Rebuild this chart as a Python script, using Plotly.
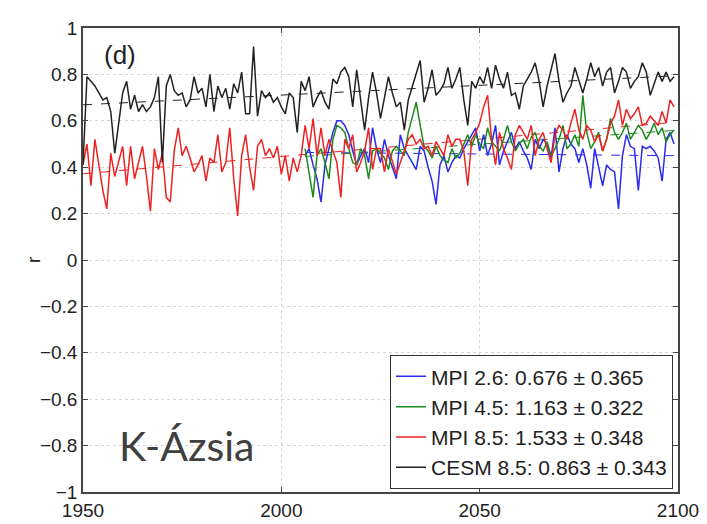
import numpy as np
import plotly.graph_objects as go

# Yearly correlation coefficient r, East Asia
years_hist = list(range(1950, 2100))
years_scen = list(range(2006, 2100))

cesm85 = [
    0.41, 0.79, 0.77, 0.75, 0.72, 0.69, 0.70, 0.64, 0.46, 0.58,
    0.72, 0.77, 0.65, 0.71, 0.64, 0.67, 0.64, 0.66, 0.70, 0.79,
    0.42, 0.75, 0.80, 0.73, 0.71, 0.72, 0.66, 0.69, 0.79, 0.72,
    0.74, 0.66, 0.80, 0.64, 0.75, 0.70, 0.74, 0.65, 0.76, 0.72,
    0.81, 0.63, 0.63, 0.92, 0.62, 0.73, 0.70, 0.72, 0.68, 0.70,
    0.66, 0.63, 0.72, 0.70, 0.55, 0.77, 0.73, 0.79, 0.66, 0.70,
    0.73, 0.68, 0.65, 0.78, 0.76, 0.81, 0.83, 0.79, 0.66, 0.82,
    0.68, 0.56, 0.70, 0.81, 0.72, 0.61, 0.70, 0.79, 0.72, 0.66,
    0.68, 0.56, 0.69, 0.75, 0.80, 0.86, 0.68, 0.74, 0.82, 0.71,
    0.73, 0.76, 0.83, 0.74, 0.78, 0.83, 0.69, 0.58, 0.77, 0.74,
    0.79, 0.76, 0.83, 0.74, 0.84, 0.78, 0.74, 0.81, 0.71, 0.72,
    0.65, 0.75, 0.78, 0.81, 0.85, 0.77, 0.66, 0.75, 0.82, 0.89,
    0.77, 0.68, 0.72, 0.75, 0.83, 0.78, 0.72, 0.78, 0.85, 0.79,
    0.83, 0.75, 0.81, 0.83, 0.72, 0.77, 0.83, 0.81, 0.74, 0.77,
    0.79, 0.85, 0.81, 0.71, 0.76, 0.81, 0.77, 0.81, 0.77, 0.79,
]

mpi85 = [
    0.41, 0.50, 0.32, 0.52, 0.41, 0.30, 0.22, 0.46, 0.36, 0.42,
    0.49, 0.32, 0.49, 0.35, 0.42, 0.49, 0.36, 0.21, 0.48, 0.39,
    0.46, 0.27, 0.25, 0.47, 0.57, 0.45, 0.49, 0.44, 0.38, 0.41,
    0.45, 0.34, 0.44, 0.42, 0.54, 0.38, 0.42, 0.57, 0.35, 0.19,
    0.45, 0.54, 0.40, 0.30, 0.49, 0.52, 0.45, 0.48, 0.44, 0.49,
    0.37, 0.45, 0.34, 0.44, 0.38, 0.45, 0.58, 0.48, 0.61, 0.45,
    0.57, 0.45, 0.52, 0.47, 0.42, 0.27, 0.52, 0.48, 0.54, 0.38,
    0.42, 0.47, 0.57, 0.39, 0.48, 0.48, 0.38, 0.48, 0.42, 0.37,
    0.42, 0.47, 0.52, 0.54, 0.50, 0.52, 0.48, 0.49, 0.45, 0.51,
    0.48, 0.45, 0.54, 0.49, 0.52, 0.52, 0.47, 0.32, 0.52, 0.55,
    0.59, 0.66, 0.71, 0.52, 0.41, 0.55, 0.48, 0.44, 0.39, 0.54,
    0.58, 0.55, 0.52, 0.58, 0.45, 0.52, 0.55, 0.48, 0.42, 0.54,
    0.58, 0.56, 0.52, 0.59, 0.65, 0.56, 0.52, 0.58, 0.56, 0.51,
    0.54, 0.47, 0.52, 0.59, 0.62, 0.69, 0.58, 0.65, 0.61, 0.63,
    0.66, 0.58, 0.59, 0.62, 0.60, 0.58, 0.64, 0.59, 0.69, 0.66,
]

mpi26 = [
    0.45, 0.48, 0.41, 0.35,
    0.25, 0.41, 0.48, 0.55, 0.60, 0.60, 0.58, 0.54, 0.47, 0.41,
    0.45, 0.48, 0.42, 0.57, 0.48, 0.42, 0.52, 0.45, 0.40, 0.35,
    0.54, 0.48, 0.45, 0.42, 0.39, 0.49, 0.47, 0.40, 0.34, 0.24,
    0.41, 0.45, 0.38, 0.42, 0.45, 0.44, 0.48, 0.51, 0.54, 0.57,
    0.47, 0.54, 0.45, 0.50, 0.58, 0.41, 0.47, 0.51, 0.55, 0.48,
    0.51, 0.47, 0.44, 0.39, 0.52, 0.48, 0.52, 0.50, 0.44, 0.57,
    0.38, 0.48, 0.54, 0.50, 0.48, 0.42, 0.48, 0.41, 0.31, 0.48,
    0.40, 0.32, 0.41, 0.39, 0.38, 0.22, 0.45, 0.54, 0.49, 0.48,
    0.30, 0.49, 0.48, 0.49, 0.47, 0.44, 0.34, 0.52, 0.55, 0.50,
]

mpi45 = [
    0.48, 0.38, 0.27, 0.45,
    0.48, 0.42, 0.35, 0.52, 0.58, 0.57, 0.55, 0.48, 0.42, 0.41,
    0.48, 0.45, 0.35, 0.47, 0.48, 0.46, 0.44, 0.39, 0.47, 0.49,
    0.47, 0.45, 0.55, 0.62, 0.68, 0.58, 0.49, 0.47, 0.44, 0.49,
    0.45, 0.43, 0.42, 0.48, 0.44, 0.46, 0.50, 0.54, 0.49, 0.54,
    0.50, 0.48, 0.57, 0.51, 0.49, 0.47, 0.52, 0.58, 0.51, 0.47,
    0.50, 0.52, 0.48, 0.53, 0.55, 0.49, 0.47, 0.51, 0.45, 0.48,
    0.52, 0.58, 0.48, 0.50, 0.54, 0.49, 0.71, 0.55, 0.48, 0.51,
    0.55, 0.47, 0.52, 0.61, 0.55, 0.52, 0.55, 0.59, 0.52, 0.55,
    0.58, 0.56, 0.52, 0.55, 0.59, 0.54, 0.57, 0.51, 0.54, 0.56,
]

legend_names = [
    "MPI 2.6: 0.676 \u00b1 0.365",
    "MPI 4.5: 1.163 \u00b1 0.322",
    "MPI 8.5: 1.533 \u00b1 0.348",
    "CESM 8.5: 0.863 \u00b1 0.343",
]
colors = ["#2a2af0", "#1e8a1e", "#ee2222", "#222222"]

y_ticks = [-1, -0.8, -0.6, -0.4, -0.2, 0, 0.2, 0.4, 0.6, 0.8, 1]
y_ticktext = ["\u22121", "\u22120.8", "\u22120.6", "\u22120.4", "\u22120.2",
              "0", "0.2", "0.4", "0.6", "0.8", "1"]
x_ticks = [1950, 2000, 2050, 2100]

series = [
    (years_scen, mpi26),
    (years_scen, mpi45),
    (years_hist, mpi85),
    (years_hist, cesm85),
]

fig = go.Figure()

# linear trend of each run (dashed)
for (xs, ys), c in zip(series, colors):
    xa = np.array(xs, dtype=float)
    coef = np.polyfit(xa, np.array(ys), 1)
    fig.add_trace(go.Scatter(
        x=[xa[0], xa[-1]], y=list(np.polyval(coef, [xa[0], xa[-1]])),
        mode="lines", line=dict(color=c, width=1, dash="dash"),
        showlegend=False, hoverinfo="skip"))

for (xs, ys), c, name in zip(series, colors, legend_names):
    fig.add_trace(go.Scatter(
        x=xs, y=ys, mode="lines", name=name,
        line=dict(color=c, width=1.5)))

axis_common = dict(
    showline=True, linecolor="#444", linewidth=1.5, mirror="ticks",
    ticks="inside", ticklen=5, tickcolor="#444",
    showgrid=True, gridcolor="#d6d6d6", griddash="dot", gridwidth=1,
    zeroline=False, automargin=False,
    tickfont=dict(family="Liberation Sans, Arial", size=19, color="#222"),
)

fig.update_layout(
    width=707, height=524,
    margin=dict(l=83, r=29, t=28, b=32),
    paper_bgcolor="white", plot_bgcolor="white",
    xaxis=dict(range=[1950, 2100], tickvals=x_ticks, **axis_common),
    yaxis=dict(range=[-1, 1], tickvals=y_ticks, ticktext=y_ticktext, **axis_common),
    legend=dict(
        x=0.9916, xanchor="right", y=0.006, yanchor="bottom",
        bgcolor="white", bordercolor="#333", borderwidth=1,
        font=dict(family="Liberation Sans, Arial", size=21, color="#222"),
        tracegroupgap=0,
    ),
    annotations=[
        dict(text="(d)", xref="paper", yref="paper", x=0.062, y=0.942,
             showarrow=False, xanchor="center", yanchor="middle",
             font=dict(family="Liberation Sans, Arial", size=26, color="#222")),
        dict(text="K-\u00c1zsia", xref="paper", yref="paper", x=0.057, y=0.10,
             showarrow=False, xanchor="left", yanchor="middle",
             font=dict(family="Lato", size=41, color="#404040")),
        dict(text="r", xref="paper", yref="paper", x=-0.084, y=0.5,
             showarrow=False, textangle=-90, xanchor="center", yanchor="middle",
             font=dict(family="Liberation Sans, Arial", size=19, color="#222")),
    ],
)

fig.write_html("out.html")
